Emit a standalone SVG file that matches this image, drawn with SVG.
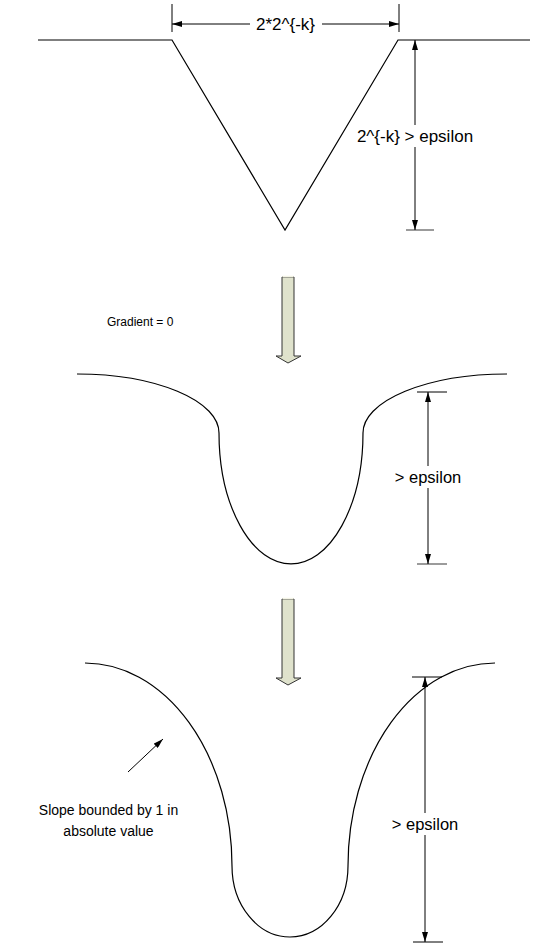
<svg xmlns="http://www.w3.org/2000/svg" width="543" height="945" viewBox="0 0 543 945">
  <style>
    .curve { fill: none; stroke: #000; stroke-width: 1.2; }
    .dim { fill: none; stroke: #000; stroke-width: 1; }
    .tick { fill: none; stroke: #000; stroke-width: 1; }
    .tick-grey { fill: none; stroke: #7a7a7a; stroke-width: 1.5; }
    .label { font-family: "Liberation Sans", Arial, sans-serif; fill: #000; }
    .big { font-size: 17px; }
    .mid { font-size: 16.5px; }
    .note { font-size: 14px; }
    .small { font-size: 12px; }
    .shaft { fill: #dfe2cc; stroke: #333; stroke-width: 1; }
  </style>
  <defs>
    <marker id="ah" viewBox="0 0 10 6" refX="10" refY="3" markerWidth="10" markerHeight="6" markerUnits="userSpaceOnUse" orient="auto-start-reverse">
      <path d="M0,0 L10,3 L0,6 Z" fill="#000"/>
    </marker>
  </defs>

  <!-- Stage 1: V-shaped notch -->
  <g id="notch">
    <polyline class="curve" points="38,40 172,40 285,230 398,40 530,40"/>
  </g>
  <g id="notch-width">
    <line class="tick" x1="172" y1="4" x2="172" y2="32"/>
    <line class="tick" x1="399" y1="4" x2="399" y2="32"/>
    <line class="dim" x1="172" y1="24" x2="399" y2="24" marker-start="url(#ah)" marker-end="url(#ah)"/>
    <rect x="250" y="12" width="72" height="22" fill="#fff"/>
    <text class="label big" x="285.5" y="30" text-anchor="middle">2*2^{-k}</text>
  </g>
  <g id="notch-depth">
    <line class="tick-grey" x1="406" y1="230" x2="434" y2="230"/>
    <line class="dim" x1="415" y1="40" x2="415" y2="230" marker-start="url(#ah)" marker-end="url(#ah)"/>
    <rect x="354" y="125" width="122" height="22" fill="#fff"/>
    <text class="label big" x="415" y="142" text-anchor="middle">2^{-k} &gt; epsilon</text>
  </g>

  <!-- Stage 2: smoothed well with flat gradient at the rim -->
  <g id="well">
    <path class="curve" d="M77,374 A142,59 0 0 1 219,433 A72,131 0 0 0 363,433 A144,59 0 0 1 507,374"/>
  </g>
  <g id="well-depth">
    <line class="tick" x1="417" y1="392" x2="447" y2="392"/>
    <line class="tick-grey" x1="417" y1="564" x2="447" y2="564"/>
    <line class="dim" x1="428" y1="392" x2="428" y2="564" marker-start="url(#ah)" marker-end="url(#ah)"/>
    <rect x="392" y="466" width="72" height="22" fill="#fff"/>
    <text class="label mid" x="428" y="483" text-anchor="middle">&gt; epsilon</text>
  </g>
  <g id="gradient-note">
    <text class="label small" x="107" y="326">Gradient = 0</text>
  </g>

  <!-- Stage 3: well with bounded slope -->
  <g id="slope-well">
    <path class="curve" d="M85,663 A147,203 0 0 1 232,866 A58,71 0 0 0 348,866 A147,203 0 0 1 495,663"/>
  </g>
  <g id="slope-depth">
    <line class="tick" x1="412" y1="677" x2="442" y2="677"/>
    <line class="tick" x1="413" y1="942" x2="443" y2="942"/>
    <line class="dim" x1="425" y1="677" x2="425" y2="942" marker-start="url(#ah)" marker-end="url(#ah)"/>
    <rect x="389" y="813" width="72" height="22" fill="#fff"/>
    <text class="label mid" x="425" y="830" text-anchor="middle">&gt; epsilon</text>
  </g>
  <g id="slope-note">
    <text class="label note" x="108.5" y="815" text-anchor="middle">Slope bounded by 1 in</text>
    <text class="label note" x="108.5" y="836" text-anchor="middle">absolute value</text>
  </g>

  <!-- Transition arrows between stages -->
  <g id="connectors">
    <g id="step-1">
      <polygon class="shaft" points="282,277 294,277 294,356 301,356 288,363 276,356 282,356"/>
      <line x1="282.5" y1="276.5" x2="293.5" y2="276.5" stroke="#f4f4e6" stroke-width="1.5"/>
    </g>
    <g id="step-2">
      <polygon class="shaft" points="282,599 294,599 294,678 301,678 288,685 276,678 282,678"/>
      <line x1="282.5" y1="598.5" x2="293.5" y2="598.5" stroke="#f4f4e6" stroke-width="1.5"/>
    </g>
    <line class="dim" x1="128" y1="772" x2="163" y2="739" marker-end="url(#ah)"/>
  </g>
</svg>
